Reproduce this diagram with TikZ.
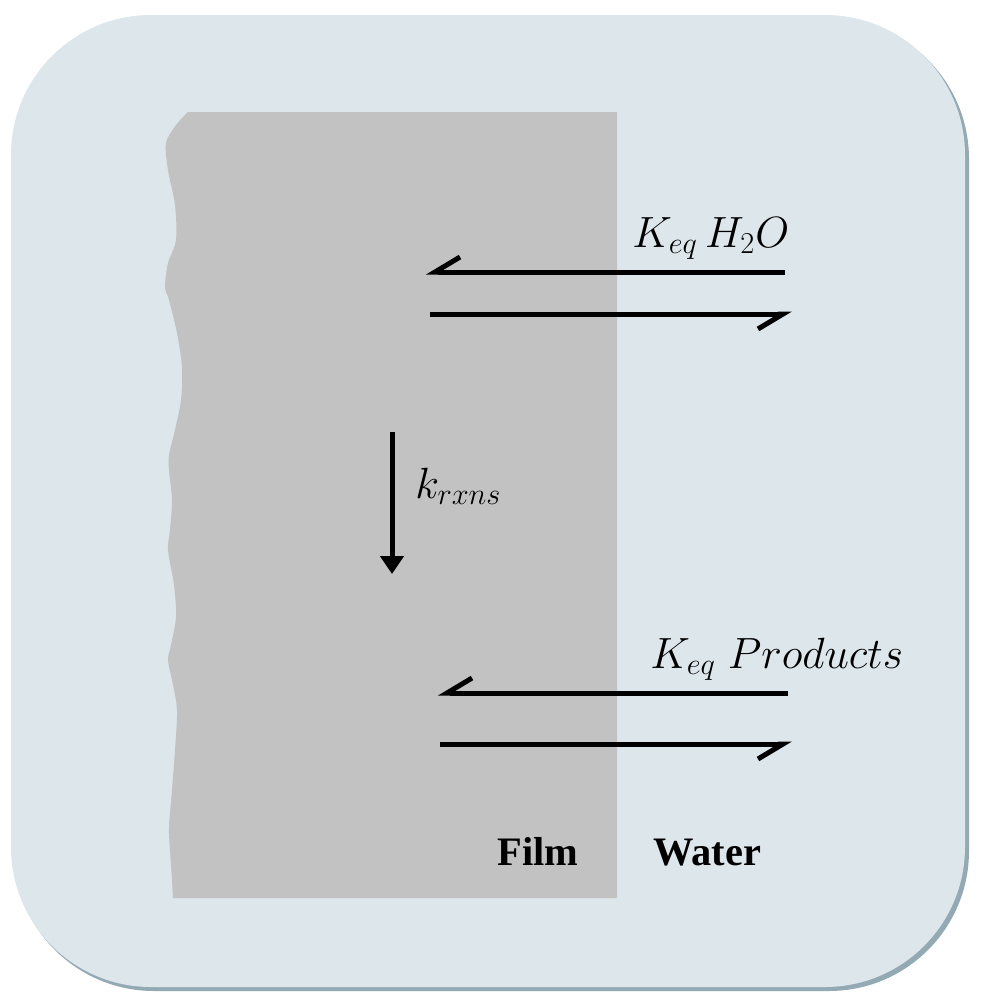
\documentclass[tikz,border=0pt]{standalone}
\usepackage{fontspec}
\usepackage{tikz}
\newfontfamily\zonefont{Liberation Serif}
\definecolor{ciel}{HTML}{DDE6EA}
\definecolor{ombre}{HTML}{93A9B3}
\definecolor{gris}{gray}{0.76}
\usetikzlibrary{arrows.meta}
\tikzset{fleche/.style={
    line width=1mm,
    -{Straight Barb[right,length=5mm,width=6mm]}}}
\tikzset{etiquette/.style={
    font=\fontsize{23}{27}\selectfont,
    inner sep=0,
    anchor=base west}}
\tikzset{zone/.style={
    font=\zonefont\bfseries\fontsize{23}{27}\selectfont,
    inner sep=0,
    anchor=base west}}

\begin{document}
\begin{tikzpicture}[x=0.2mm, y=-0.2mm]
  \useasboundingbox (0,0) rectangle (981,1000);
  \fill[white] (0,0) rectangle (981,1000);
  \fill[ombre, rounded corners=28mm] (14,19) rectangle (969,991);
  \fill[ciel, rounded corners=28mm] (11,15) rectangle (965,987);

  \fill[gris] (617,112) -- (617,898) -- plot[smooth] coordinates {
    (173,898) (172,880) (170,850) (169,827) (172,790) (175,750)
    (177,710) (172,680) (168,660) (171,645) (176,617) (174,585)
    (168,550) (170,530) (172,500) (169,470) (169,455) (175,430)
    (181,400) (182,367) (177,333) (169,300) (165,287) (168,263)
    (176,240) (175,205) (168,170) (166,143) (176,125) (188,112)} -- cycle;

  \coordinate (h2oA) at (785,272);
  \coordinate (h2oB) at (426,272);
  \coordinate (h2oC) at (430,314);
  \coordinate (h2oD) at (792,314);
  \coordinate (prodA) at (788,693);
  \coordinate (prodB) at (438,693);
  \coordinate (prodC) at (440,744);
  \coordinate (prodD) at (792,744);
  \coordinate (rxnA) at (392,432);
  \coordinate (rxnB) at (392,574);

  \draw[fleche] (h2oA) -- (h2oB);
  \draw[fleche] (h2oC) -- (h2oD);
  \draw[fleche] (prodA) -- (prodB);
  \draw[fleche] (prodC) -- (prodD);
  \draw[line width=1mm,
    -{Triangle[length=3.6mm,width=4.6mm]}] (rxnA) -- (rxnB);

  \node[etiquette] (keqh2o) at (632,247) {$K_{eq}\,H_2O$};
  \node[etiquette] (keqprod) at (650,668) {$K_{eq}\;Products$};
  \node[etiquette] (krxns) at (415,498) {$k_{rxns}$};

  \node[zone] (film) at (497,865) {Film};
  \node[zone] (water) at (653,865) {Water};
\end{tikzpicture}
\end{document}
